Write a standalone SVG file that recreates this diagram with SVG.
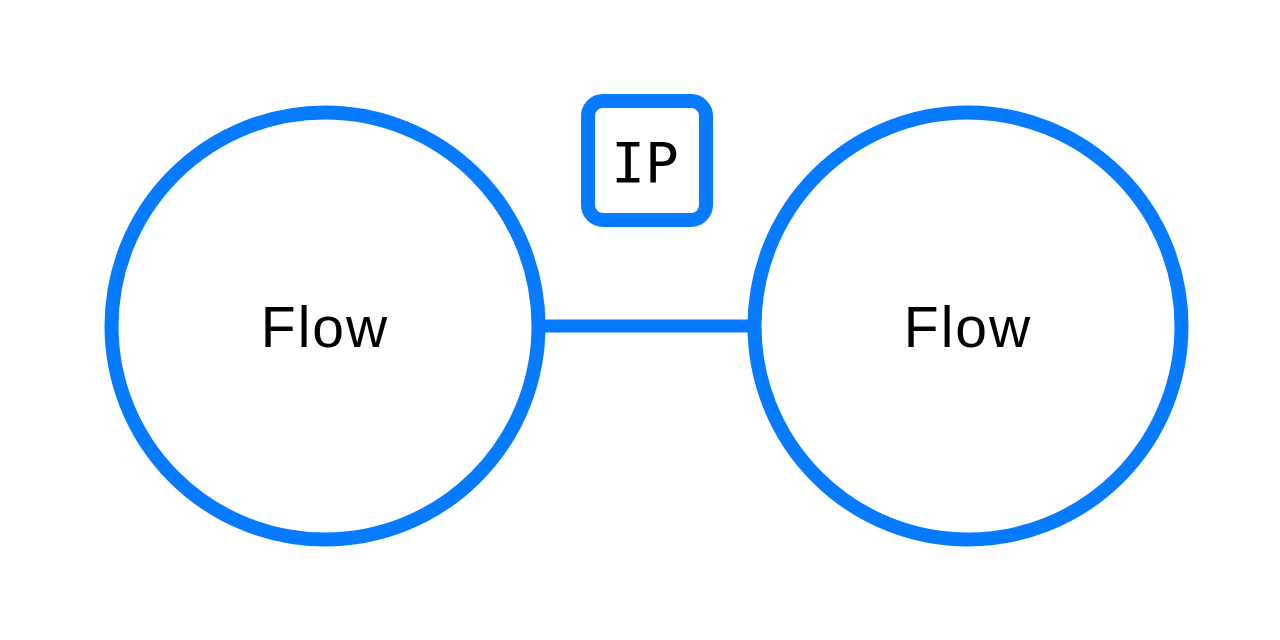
<svg xmlns="http://www.w3.org/2000/svg" width="1280" height="640" viewBox="0 0 1280 640">
<style>
.node{fill:#fff;stroke:#077bff;stroke-width:14}
.edge{stroke:#077bff;stroke-width:13;fill:none}
.lbl{font-family:"Liberation Sans",Arial,sans-serif;font-size:57px;fill:#000;text-anchor:middle}
.mono{font-family:"DejaVu Sans Mono",monospace;font-size:56px;fill:#000;text-anchor:middle}
</style>
<rect width="1280" height="640" fill="#fff"/>
<g id="connectors">
<line class="edge" x1="540" y1="326" x2="754" y2="326"/>
</g>
<g id="flow1">
<circle class="node" cx="325" cy="326" r="213.5"/>
<text class="lbl" x="325" y="347" letter-spacing="2">Flow</text>
</g>
<g id="flow2">
<circle class="node" cx="968" cy="326" r="213.5"/>
<text class="lbl" x="968" y="347" letter-spacing="2">Flow</text>
</g>
<g id="ip">
<rect class="node" x="588" y="101" width="118" height="119" rx="15"/>
<text class="mono" x="645" y="182">IP</text>
</g>
</svg>
